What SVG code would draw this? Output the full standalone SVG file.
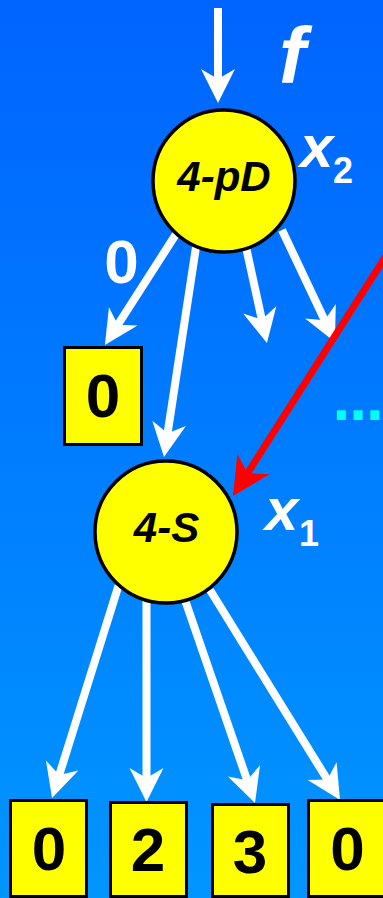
<svg xmlns="http://www.w3.org/2000/svg" width="383" height="898" viewBox="0 0 383 898">
<defs>
<linearGradient id="bg" x1="0" y1="0" x2="0" y2="1">
<stop offset="0" stop-color="#0064ff"/>
<stop offset="1" stop-color="#0096ff"/>
</linearGradient>
<marker id="wh" markerUnits="userSpaceOnUse" markerWidth="60" markerHeight="60" refX="0" refY="0" orient="auto" overflow="visible">
<path d="M20,0 L-14,-17 L-4,0 L-14,17 Z" fill="#ffffff"/>
</marker>
<marker id="rd" markerUnits="userSpaceOnUse" markerWidth="60" markerHeight="60" refX="0" refY="0" orient="auto" overflow="visible">
<path d="M22,0 L-16,-19 L-5,0 L-16,19 Z" fill="#ff0000"/>
</marker>
</defs>
<style>
.e{stroke:#fff;stroke-width:8;fill:none;marker-end:url(#wh)}
.r{stroke:#ff0000;stroke-width:7;fill:none;marker-end:url(#rd)}
.node{fill:#ffff00;stroke:#000;stroke-width:3.5}
.box{fill:#ffff00;stroke:#000;stroke-width:3}
.nt{font-family:"Liberation Sans",Arial,sans-serif;font-weight:bold;font-style:italic;font-size:42px;fill:#000;text-anchor:middle}
.bt{font-family:"Liberation Sans",Arial,sans-serif;font-weight:bold;font-size:62px;fill:#000;text-anchor:middle}
.wl{font-family:"Liberation Sans",Arial,sans-serif;font-weight:bold;fill:#fff}
</style>
<rect x="0" y="0" width="383" height="898" fill="url(#bg)"/>
<g id="connectors">
<line class="e" x1="218" y1="8" x2="218" y2="83"/>
<line class="e" x1="178" y1="231" x2="115.7" y2="328.1"/>
<line class="e" x1="196" y1="247" x2="167" y2="437.2"/>
<line class="e" x1="246" y1="247" x2="262.7" y2="323.5"/>
<line class="e" x1="282" y1="230" x2="326.4" y2="323.9"/>
<line class="r" x1="398" y1="237" x2="244.8" y2="477.5"/>
<line class="e" x1="118.5" y1="585.7" x2="58" y2="778.9"/>
<line class="e" x1="146.5" y1="601" x2="146.5" y2="782"/>
<line class="e" x1="185" y1="600" x2="248.5" y2="784.1"/>
<line class="e" x1="210" y1="590" x2="329.5" y2="783"/>
</g>
<g id="label-f"><text class="wl" x="279" y="83" font-size="80" font-style="italic">f</text></g>
<g id="node-4pD">
<circle class="node" cx="224" cy="181" r="71"/>
<text class="nt" x="224" y="191">4-pD</text>
</g>
<g id="label-x2"><text class="wl" x="300" y="167" font-size="60" font-style="italic">x</text><text class="wl" x="333" y="183" font-size="36">2</text></g>
<g id="label-0"><text class="wl" x="121.5" y="283" font-size="62" text-anchor="middle">0</text></g>
<g id="leaf-0a">
<rect class="box" x="64.5" y="347.5" width="77" height="97"/>
<text class="bt" x="103" y="417">0</text>
</g>
<g id="dots"><text x="332.5" y="420" font-family="Liberation Sans, Arial, sans-serif" font-weight="bold" font-size="64" letter-spacing="-1" fill="#00ffff">...</text></g>
<g id="node-4S">
<circle class="node" cx="166" cy="532" r="71"/>
<text class="nt" x="166.5" y="542">4-S</text>
</g>
<g id="label-x1"><text class="wl" x="265" y="530" font-size="60" font-style="italic">x</text><text class="wl" x="299" y="546" font-size="36">1</text></g>
<g id="leaf-0b">
<rect class="box" x="10.5" y="800.5" width="76" height="96"/>
<text class="bt" x="49" y="870">0</text>
</g>
<g id="leaf-2">
<rect class="box" x="110.5" y="802.5" width="76" height="94"/>
<text class="bt" x="148" y="871">2</text>
</g>
<g id="leaf-3">
<rect class="box" x="212.5" y="804.5" width="76" height="92"/>
<text class="bt" x="250" y="873">3</text>
</g>
<g id="leaf-0c">
<rect class="box" x="308.5" y="800.5" width="78" height="96"/>
<text class="bt" x="347.5" y="870">0</text>
</g>
</svg>
